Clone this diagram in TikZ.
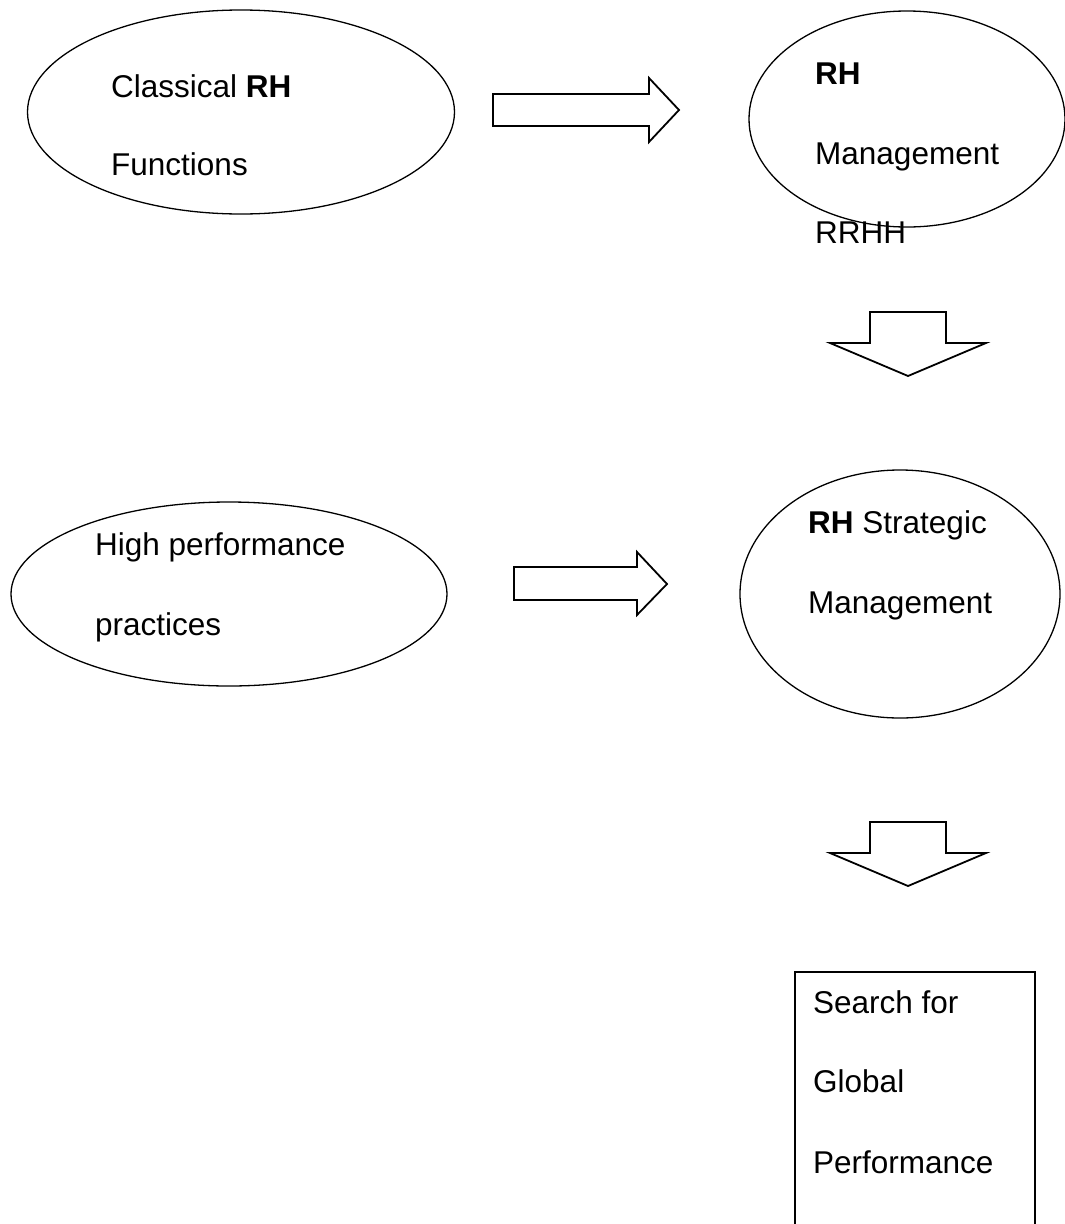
\documentclass[tikz,border=0pt]{standalone}
\usepackage{fontspec}
\setmainfont{Liberation Sans}
\usetikzlibrary{shapes.geometric}
\tikzset{
  oval/.style={ellipse, draw, line width=1.3pt, inner sep=0pt},
  txt/.style={anchor=base west, inner sep=0pt, font=\fontsize{31.5}{38}\selectfont},
  blockarrow/.style={draw, line width=1.8pt, line join=miter, fill=white},
  frame/.style={draw, line width=1.5pt}
}
\begin{document}
\begin{tikzpicture}[x=1pt,y=-1pt]
\useasboundingbox (0,0) rectangle (1065,1224);
\clip (0,0) rectangle (1065,1224);
% ellipses
\node[oval, minimum width=427pt, minimum height=204pt] (e1) at (241,112) {};
\node[oval, minimum width=316pt, minimum height=216pt] (e2) at (907,119) {};
\node[oval, minimum width=436pt, minimum height=184pt] (e3) at (229,594) {};
\node[oval, minimum width=320pt, minimum height=248pt] (e4) at (900,594) {};
% box
\node[frame, anchor=north west, minimum width=240pt, minimum height=300pt, inner sep=0pt] (box) at (794,971) {};
% texts
\node[txt] (t1) at (111,97) {Classical \textbf{RH}};
\node[txt] (t2) at (111,175) {Functions};
\node[txt] (t3) at (815,84) {\textbf{RH}};
\node[txt] (t4) at (815,164) {Management};
\node[txt] (t5) at (815,243) {RRHH};
\node[txt] (t6) at (95,555) {High performance};
\node[txt] (t7) at (95,635) {practices};
\node[txt] (t8) at (808,533) {\textbf{RH} Strategic};
\node[txt] (t9) at (808,613) {Management};
\node[txt] (t10) at (813,1013) {Search for};
\node[txt] (t11) at (813,1092) {Global};
\node[txt] (t12) at (813,1173) {Performance};
% block arrows
\draw[blockarrow] (493,94) -- (649,94) -- (649,78) -- (679,110) -- (649,142) -- (649,126) -- (493,126) -- cycle;
\draw[blockarrow] (514,567) -- (637,567) -- (637,552) -- (667,584) -- (637,615) -- (637,600) -- (514,600) -- cycle;
\draw[blockarrow] (870,312) -- (946,312) -- (946,343) -- (986,343) -- (908,376) -- (830,343) -- (870,343) -- cycle;
\draw[blockarrow] (870,822) -- (946,822) -- (946,853) -- (986,853) -- (908,886) -- (830,853) -- (870,853) -- cycle;
\end{tikzpicture}
\end{document}
